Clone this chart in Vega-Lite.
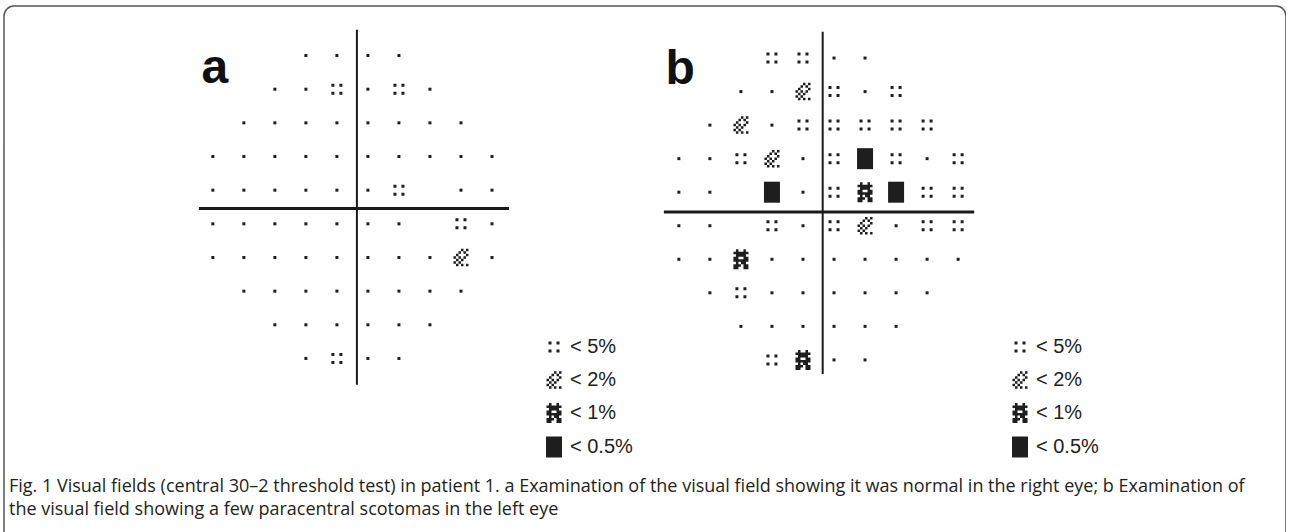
{
  "$schema": "https://vega.github.io/schema/vega-lite/v6.json",
  "width": 1282,
  "height": 540,
  "padding": {"left": 4, "top": 6, "right": 0, "bottom": 0},
  "background": "white",
  "config": {"view": {"stroke": "#555555", "strokeWidth": 1.5, "cornerRadius": 10}},
  "title": {
    "text": ["Fig. 1 Visual fields (central 30–2 threshold test) in patient 1. a Examination of the visual field showing it was normal in the right eye; b Examination of", "the visual field showing a few paracentral scotomas in the left eye"],
    "orient": "bottom",
    "anchor": "start",
    "offset": -68,
    "font": "Open Sans",
    "fontSize": 18,
    "fontWeight": "normal",
    "color": "#231f20",
    "lineHeight": 22.5,
    "dx": 5
  },
  "datasets": {
    "a": [
      {"x": -9, "y": 27, "p": "normal"}, {"x": -3, "y": 27, "p": "normal"}, {"x": 3, "y": 27, "p": "normal"}, {"x": 9, "y": 27, "p": "normal"},
      {"x": -15, "y": 21, "p": "normal"}, {"x": -9, "y": 21, "p": "normal"}, {"x": -3, "y": 21, "p": "< 5%"}, {"x": 3, "y": 21, "p": "normal"}, {"x": 9, "y": 21, "p": "< 5%"}, {"x": 15, "y": 21, "p": "normal"},
      {"x": -21, "y": 15, "p": "normal"}, {"x": -15, "y": 15, "p": "normal"}, {"x": -9, "y": 15, "p": "normal"}, {"x": -3, "y": 15, "p": "normal"}, {"x": 3, "y": 15, "p": "normal"}, {"x": 9, "y": 15, "p": "normal"}, {"x": 15, "y": 15, "p": "normal"}, {"x": 21, "y": 15, "p": "normal"},
      {"x": -27, "y": 9, "p": "normal"}, {"x": -21, "y": 9, "p": "normal"}, {"x": -15, "y": 9, "p": "normal"}, {"x": -9, "y": 9, "p": "normal"}, {"x": -3, "y": 9, "p": "normal"}, {"x": 3, "y": 9, "p": "normal"}, {"x": 9, "y": 9, "p": "normal"}, {"x": 15, "y": 9, "p": "normal"}, {"x": 21, "y": 9, "p": "normal"}, {"x": 27, "y": 9, "p": "normal"},
      {"x": -27, "y": 3, "p": "normal"}, {"x": -21, "y": 3, "p": "normal"}, {"x": -15, "y": 3, "p": "normal"}, {"x": -9, "y": 3, "p": "normal"}, {"x": -3, "y": 3, "p": "normal"}, {"x": 3, "y": 3, "p": "normal"}, {"x": 9, "y": 3, "p": "< 5%"}, {"x": 21, "y": 3, "p": "normal"}, {"x": 27, "y": 3, "p": "normal"},
      {"x": -27, "y": -3, "p": "normal"}, {"x": -21, "y": -3, "p": "normal"}, {"x": -15, "y": -3, "p": "normal"}, {"x": -9, "y": -3, "p": "normal"}, {"x": -3, "y": -3, "p": "normal"}, {"x": 3, "y": -3, "p": "normal"}, {"x": 9, "y": -3, "p": "normal"}, {"x": 21, "y": -3, "p": "< 5%"}, {"x": 27, "y": -3, "p": "normal"},
      {"x": -27, "y": -9, "p": "normal"}, {"x": -21, "y": -9, "p": "normal"}, {"x": -15, "y": -9, "p": "normal"}, {"x": -9, "y": -9, "p": "normal"}, {"x": -3, "y": -9, "p": "normal"}, {"x": 3, "y": -9, "p": "normal"}, {"x": 9, "y": -9, "p": "normal"}, {"x": 15, "y": -9, "p": "normal"}, {"x": 21, "y": -9, "p": "< 2%"}, {"x": 27, "y": -9, "p": "normal"},
      {"x": -21, "y": -15, "p": "normal"}, {"x": -15, "y": -15, "p": "normal"}, {"x": -9, "y": -15, "p": "normal"}, {"x": -3, "y": -15, "p": "normal"}, {"x": 3, "y": -15, "p": "normal"}, {"x": 9, "y": -15, "p": "normal"}, {"x": 15, "y": -15, "p": "normal"}, {"x": 21, "y": -15, "p": "normal"},
      {"x": -15, "y": -21, "p": "normal"}, {"x": -9, "y": -21, "p": "normal"}, {"x": -3, "y": -21, "p": "normal"}, {"x": 3, "y": -21, "p": "normal"}, {"x": 9, "y": -21, "p": "normal"}, {"x": 15, "y": -21, "p": "normal"},
      {"x": -9, "y": -27, "p": "normal"}, {"x": -3, "y": -27, "p": "< 5%"}, {"x": 3, "y": -27, "p": "normal"}, {"x": 9, "y": -27, "p": "normal"}
    ],
    "b": [
      {"x": -9, "y": 27, "p": "< 5%"}, {"x": -3, "y": 27, "p": "< 5%"}, {"x": 3, "y": 27, "p": "normal"}, {"x": 9, "y": 27, "p": "normal"},
      {"x": -15, "y": 21, "p": "normal"}, {"x": -9, "y": 21, "p": "normal"}, {"x": -3, "y": 21, "p": "< 2%"}, {"x": 3, "y": 21, "p": "< 5%"}, {"x": 9, "y": 21, "p": "normal"}, {"x": 15, "y": 21, "p": "< 5%"},
      {"x": -21, "y": 15, "p": "normal"}, {"x": -15, "y": 15, "p": "< 2%"}, {"x": -9, "y": 15, "p": "normal"}, {"x": -3, "y": 15, "p": "< 5%"}, {"x": 3, "y": 15, "p": "< 5%"}, {"x": 9, "y": 15, "p": "< 5%"}, {"x": 15, "y": 15, "p": "< 5%"}, {"x": 21, "y": 15, "p": "< 5%"},
      {"x": -27, "y": 9, "p": "normal"}, {"x": -21, "y": 9, "p": "normal"}, {"x": -15, "y": 9, "p": "< 5%"}, {"x": -9, "y": 9, "p": "< 2%"}, {"x": -3, "y": 9, "p": "normal"}, {"x": 3, "y": 9, "p": "< 5%"}, {"x": 9, "y": 9, "p": "< 0.5%"}, {"x": 15, "y": 9, "p": "< 5%"}, {"x": 21, "y": 9, "p": "normal"}, {"x": 27, "y": 9, "p": "< 5%"},
      {"x": -27, "y": 3, "p": "normal"}, {"x": -21, "y": 3, "p": "normal"}, {"x": -9, "y": 3, "p": "< 0.5%"}, {"x": -3, "y": 3, "p": "normal"}, {"x": 3, "y": 3, "p": "< 5%"}, {"x": 9, "y": 3, "p": "< 1%"}, {"x": 15, "y": 3, "p": "< 0.5%"}, {"x": 21, "y": 3, "p": "< 5%"}, {"x": 27, "y": 3, "p": "< 5%"},
      {"x": -27, "y": -3, "p": "normal"}, {"x": -21, "y": -3, "p": "normal"}, {"x": -9, "y": -3, "p": "< 5%"}, {"x": -3, "y": -3, "p": "normal"}, {"x": 3, "y": -3, "p": "< 5%"}, {"x": 9, "y": -3, "p": "< 2%"}, {"x": 15, "y": -3, "p": "normal"}, {"x": 21, "y": -3, "p": "< 5%"}, {"x": 27, "y": -3, "p": "< 5%"},
      {"x": -27, "y": -9, "p": "normal"}, {"x": -21, "y": -9, "p": "normal"}, {"x": -15, "y": -9, "p": "< 1%"}, {"x": -9, "y": -9, "p": "normal"}, {"x": -3, "y": -9, "p": "normal"}, {"x": 3, "y": -9, "p": "normal"}, {"x": 9, "y": -9, "p": "normal"}, {"x": 15, "y": -9, "p": "normal"}, {"x": 21, "y": -9, "p": "normal"}, {"x": 27, "y": -9, "p": "normal"},
      {"x": -21, "y": -15, "p": "normal"}, {"x": -15, "y": -15, "p": "< 5%"}, {"x": -9, "y": -15, "p": "normal"}, {"x": -3, "y": -15, "p": "normal"}, {"x": 3, "y": -15, "p": "normal"}, {"x": 9, "y": -15, "p": "normal"}, {"x": 15, "y": -15, "p": "normal"}, {"x": 21, "y": -15, "p": "normal"},
      {"x": -15, "y": -21, "p": "normal"}, {"x": -9, "y": -21, "p": "normal"}, {"x": -3, "y": -21, "p": "normal"}, {"x": 3, "y": -21, "p": "normal"}, {"x": 9, "y": -21, "p": "normal"}, {"x": 15, "y": -21, "p": "normal"},
      {"x": -9, "y": -27, "p": "< 5%"}, {"x": -3, "y": -27, "p": "< 1%"}, {"x": 3, "y": -27, "p": "normal"}, {"x": 9, "y": -27, "p": "normal"}
    ],
    "one": [{"label": "a"}]
  },
  "layer": [
    {
      "data": {"name": "one"},
      "mark": {"type": "rule", "color": "#1a1a1a", "strokeWidth": 2},
      "encoding": {
        "x": {"datum": 0.87, "type": "quantitative", "scale": {"domain": [-67.4, 180.6], "nice": false, "zero": false}, "axis": null},
        "y": {"datum": 31.6, "type": "quantitative", "scale": {"domain": [-60.43, 35.83], "nice": false, "zero": false}, "axis": null},
        "y2": {"datum": -31.7}
      }
    },
    {
      "data": {"name": "one"},
      "mark": {"type": "rule", "color": "#1a1a1a", "strokeWidth": 3},
      "encoding": {
        "x": {"datum": -29.7, "type": "quantitative", "scale": {"domain": [-67.4, 180.6], "nice": false, "zero": false}, "axis": null},
        "x2": {"datum": 30.3},
        "y": {"datum": -0.27, "type": "quantitative", "scale": {"domain": [-60.43, 35.83], "nice": false, "zero": false}, "axis": null}
      }
    },
    {
      "data": {"name": "one"},
      "mark": {"type": "text", "font": "Liberation Sans", "fontSize": 48, "fontWeight": "bold", "align": "left", "baseline": "alphabetic", "color": "#111111"},
      "encoding": {
        "x": {"datum": -29.2, "type": "quantitative", "scale": {"domain": [-67.4, 180.6], "nice": false, "zero": false}, "axis": null},
        "y": {"datum": 22.1, "type": "quantitative", "scale": {"domain": [-60.43, 35.83], "nice": false, "zero": false}, "axis": null},
        "text": {"value": "a"}
      }
    },
    {
      "data": {"name": "a"},
      "mark": {"type": "point", "filled": true, "opacity": 1, "color": "#1e1e1e", "strokeWidth": 0, "size": 400},
      "encoding": {
        "x": {"field": "x", "type": "quantitative", "scale": {"domain": [-67.4, 180.6], "nice": false, "zero": false}, "axis": null},
        "y": {"field": "y", "type": "quantitative", "scale": {"domain": [-60.43, 35.83], "nice": false, "zero": false}, "axis": null},
        "shape": {
          "field": "p", "type": "nominal",
          "scale": {
            "domain": ["normal", "< 5%", "< 2%", "< 1%", "< 0.5%"],
            "range": [
              "M-0.15,-0.15h0.3v0.3h-0.3z",
              "M-0.55,-0.55h0.3v0.3h-0.3zM0.25,-0.55h0.3v0.3h-0.3zM-0.55,0.25h0.3v0.3h-0.3zM0.25,0.25h0.3v0.3h-0.3z",
              "M0,-0.875h0.25v0.25h-0.25zM0.5,-0.875h0.25v0.25h-0.25zM-0.25,-0.625h0.25v0.25h-0.25zM0.25,-0.625h0.25v0.25h-0.25zM-0.5,-0.375h0.25v0.25h-0.25zM0.5,-0.375h0.25v0.25h-0.25zM-0.75,-0.125h0.25v0.25h-0.25zM-0.25,-0.125h0.25v0.25h-0.25zM0.25,-0.125h0.25v0.25h-0.25zM-0.5,0.125h0.25v0.25h-0.25zM0,0.125h0.25v0.25h-0.25zM-0.75,0.375h0.25v0.25h-0.25zM-0.25,0.375h0.25v0.25h-0.25zM-0.5,0.625h0.25v0.25h-0.25zM0,0.625h0.25v0.25h-0.25zM0.5,0.625h0.25v0.25h-0.25z",
              "M-0.5,-1h0.25v0.25h-0.25zM0.25,-1h0.25v0.25h-0.25zM-0.75,-0.75h1.5v0.25h-1.5zM-0.5,-0.5h1v0.25h-1zM-0.75,-0.25h0.5v0.25h-0.5zM0.25,-0.25h0.5v0.25h-0.5zM-0.75,0h1.5v0.25h-1.5zM-0.5,0.25h0.25v0.25h-0.25zM0,0.25h0.5v0.25h-0.5zM-0.75,0.5h0.75v0.25h-0.75zM0.25,0.5h0.5v0.25h-0.5zM-0.75,0.75h0.5v0.25h-0.5zM0.25,0.75h0.5v0.25h-0.5z",
              "M-0.8,-1.05H0.8V1.05H-0.8Z"
            ]
          },
          "legend": {"title": null, "orient": "none", "legendX": 540, "legendY": 331, "values": ["< 5%", "< 2%", "< 1%", "< 0.5%"], "symbolSize": 400, "symbolStrokeWidth": 0, "symbolFillColor": "#1e1e1e", "symbolOpacity": 1, "labelFont": "Liberation Sans", "labelFontSize": 20, "labelColor": "#222222", "labelOffset": 6, "rowPadding": 13, "padding": 0}
        }
      }
    },
    {
      "data": {"name": "one"},
      "mark": {"type": "rule", "color": "#1a1a1a", "strokeWidth": 2},
      "encoding": {
        "x": {"datum": 0.81, "type": "quantitative", "scale": {"domain": [-157.5, 90.4], "nice": false, "zero": false}, "axis": null},
        "y": {"datum": 31.7, "type": "quantitative", "scale": {"domain": [-60.29, 36.31], "nice": false, "zero": false}, "axis": null},
        "y2": {"datum": -29.5}
      }
    },
    {
      "data": {"name": "one"},
      "mark": {"type": "rule", "color": "#1a1a1a", "strokeWidth": 3},
      "encoding": {
        "x": {"datum": -29.9, "type": "quantitative", "scale": {"domain": [-157.5, 90.4], "nice": false, "zero": false}, "axis": null},
        "x2": {"datum": 30.1},
        "y": {"datum": -0.54, "type": "quantitative", "scale": {"domain": [-60.29, 36.31], "nice": false, "zero": false}, "axis": null}
      }
    },
    {
      "data": {"name": "one"},
      "mark": {"type": "text", "font": "Liberation Sans", "fontSize": 48, "fontWeight": "bold", "align": "left", "baseline": "alphabetic", "color": "#111111"},
      "encoding": {
        "x": {"datum": -29.6, "type": "quantitative", "scale": {"domain": [-157.5, 90.4], "nice": false, "zero": false}, "axis": null},
        "y": {"datum": 22.4, "type": "quantitative", "scale": {"domain": [-60.29, 36.31], "nice": false, "zero": false}, "axis": null},
        "text": {"value": "b"}
      }
    },
    {
      "data": {"name": "b"},
      "mark": {"type": "point", "filled": true, "opacity": 1, "color": "#1e1e1e", "strokeWidth": 0, "size": 400},
      "encoding": {
        "x": {"field": "x", "type": "quantitative", "scale": {"domain": [-157.5, 90.4], "nice": false, "zero": false}, "axis": null},
        "y": {"field": "y", "type": "quantitative", "scale": {"domain": [-60.29, 36.31], "nice": false, "zero": false}, "axis": null},
        "shape": {
          "field": "p", "type": "nominal",
          "scale": {
            "domain": ["normal", "< 5%", "< 2%", "< 1%", "< 0.5%"],
            "range": [
              "M-0.15,-0.15h0.3v0.3h-0.3z",
              "M-0.55,-0.55h0.3v0.3h-0.3zM0.25,-0.55h0.3v0.3h-0.3zM-0.55,0.25h0.3v0.3h-0.3zM0.25,0.25h0.3v0.3h-0.3z",
              "M0,-0.875h0.25v0.25h-0.25zM0.5,-0.875h0.25v0.25h-0.25zM-0.25,-0.625h0.25v0.25h-0.25zM0.25,-0.625h0.25v0.25h-0.25zM-0.5,-0.375h0.25v0.25h-0.25zM0.5,-0.375h0.25v0.25h-0.25zM-0.75,-0.125h0.25v0.25h-0.25zM-0.25,-0.125h0.25v0.25h-0.25zM0.25,-0.125h0.25v0.25h-0.25zM-0.5,0.125h0.25v0.25h-0.25zM0,0.125h0.25v0.25h-0.25zM-0.75,0.375h0.25v0.25h-0.25zM-0.25,0.375h0.25v0.25h-0.25zM-0.5,0.625h0.25v0.25h-0.25zM0,0.625h0.25v0.25h-0.25zM0.5,0.625h0.25v0.25h-0.25z",
              "M-0.5,-1h0.25v0.25h-0.25zM0.25,-1h0.25v0.25h-0.25zM-0.75,-0.75h1.5v0.25h-1.5zM-0.5,-0.5h1v0.25h-1zM-0.75,-0.25h0.5v0.25h-0.5zM0.25,-0.25h0.5v0.25h-0.5zM-0.75,0h1.5v0.25h-1.5zM-0.5,0.25h0.25v0.25h-0.25zM0,0.25h0.5v0.25h-0.5zM-0.75,0.5h0.75v0.25h-0.75zM0.25,0.5h0.5v0.25h-0.5zM-0.75,0.75h0.5v0.25h-0.5zM0.25,0.75h0.5v0.25h-0.5z",
              "M-0.8,-1.05H0.8V1.05H-0.8Z"
            ]
          },
          "legend": {"title": null, "orient": "none", "legendX": 1006, "legendY": 331, "values": ["< 5%", "< 2%", "< 1%", "< 0.5%"], "symbolSize": 400, "symbolStrokeWidth": 0, "symbolFillColor": "#1e1e1e", "symbolOpacity": 1, "labelFont": "Liberation Sans", "labelFontSize": 20, "labelColor": "#222222", "labelOffset": 6, "rowPadding": 13, "padding": 0}
        }
      }
    }
  ],
  "resolve": {"scale": {"x": "independent", "y": "independent", "shape": "independent"}, "legend": {"shape": "independent"}}
}
